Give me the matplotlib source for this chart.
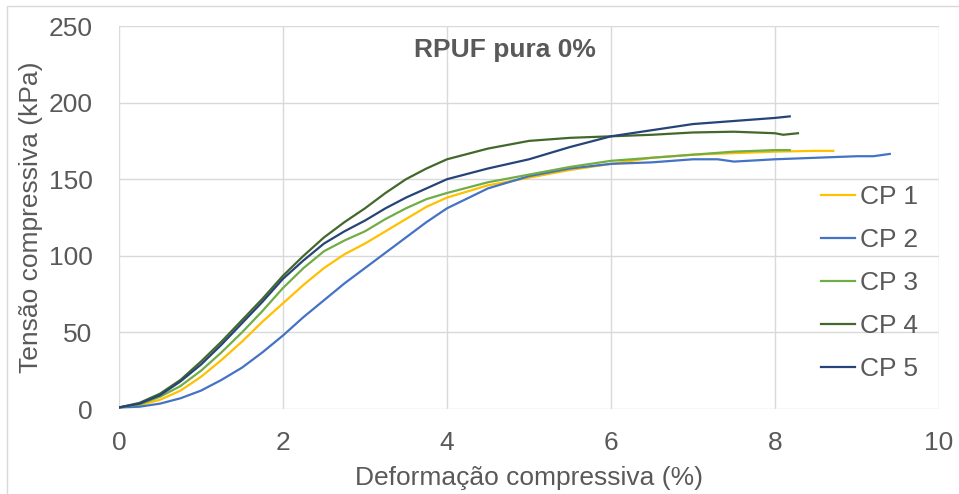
import matplotlib
matplotlib.use("Agg")
import matplotlib.pyplot as plt
from matplotlib.patches import Rectangle

# curvas tensão x deformação, ensaio de compressão (RPUF puro)
x_cp1 = [0, 0.25, 0.5, 0.75, 1, 1.25, 1.5, 1.75, 2, 2.25, 2.5, 2.75, 3, 3.25, 3.5, 3.75, 4,
         4.5, 5, 5.5, 6, 6.5, 7, 7.5, 8, 8.5, 8.71]
y_cp1 = [1, 2.5, 6, 12, 21, 32, 44, 57, 69, 81, 92, 101, 108, 116, 124, 132, 138,
         146, 151, 156, 160, 164, 166, 167, 168, 168.5, 168.5]

x_cp2 = [0, 0.25, 0.5, 0.75, 1, 1.25, 1.5, 1.75, 2, 2.25, 2.5, 2.75, 3, 3.25, 3.5, 3.75, 4,
         4.5, 5, 5.5, 6, 6.5, 7, 7.3, 7.5, 8, 8.5, 9, 9.2, 9.4]
y_cp2 = [1, 1.5, 3.5, 7, 12, 19, 27, 37, 48, 60, 71, 82, 92, 102, 112, 122, 131,
         144, 152, 157, 160, 161, 163, 163, 161.5, 163, 164, 165, 165, 166.5]

x_cp3 = [0, 0.25, 0.5, 0.75, 1, 1.25, 1.5, 1.75, 2, 2.25, 2.5, 2.75, 3, 3.25, 3.5, 3.75, 4,
         4.5, 5, 5.5, 6, 6.5, 7, 7.5, 8, 8.18]
y_cp3 = [1, 3, 8, 15, 25, 37, 50, 64, 79, 92, 103, 110, 116, 124, 131, 137, 141,
         148, 153, 158, 162, 164, 166, 168, 169, 169]

x_cp4 = [0, 0.25, 0.5, 0.75, 1, 1.25, 1.5, 1.75, 2, 2.25, 2.5, 2.75, 3, 3.25, 3.5, 3.75, 4,
         4.5, 5, 5.5, 6, 6.5, 7, 7.5, 8, 8.1, 8.28]
y_cp4 = [1, 4, 10, 19, 31, 44, 58, 72, 87, 100, 112, 122, 131, 141, 150, 157, 163,
         170, 175, 177, 178, 179, 180.5, 181, 180, 179, 180]

x_cp5 = [0, 0.25, 0.5, 0.75, 1, 1.25, 1.5, 1.75, 2, 2.25, 2.5, 2.75, 3, 3.25, 3.5, 3.75, 4,
         4.5, 5, 5.5, 6, 6.5, 7, 7.5, 8, 8.18]
y_cp5 = [1, 3.5, 9, 18, 29, 42, 56, 70, 85, 97, 108, 116, 123, 131, 138, 144, 150,
         157, 163, 171, 178, 182, 186, 188, 190, 191]

series = [("CP 1", x_cp1, y_cp1, "#FFC000"),
          ("CP 2", x_cp2, y_cp2, "#4472C4"),
          ("CP 3", x_cp3, y_cp3, "#70AD47"),
          ("CP 4", x_cp4, y_cp4, "#43682B"),
          ("CP 5", x_cp5, y_cp5, "#264478")]

TXT = "#595959"
GRID = "#D9D9D9"
plt.rcParams["font.family"] = ["Liberation Sans", "DejaVu Sans"]

fig = plt.figure(figsize=(9.59, 4.94), dpi=100)
fig.patches.append(Rectangle((7 / 959, -0.02), 1.0, 1 - 6 / 494 + 0.02,
                             transform=fig.transFigure, fill=False,
                             ec=GRID, lw=1.0))
ax = fig.add_axes([119 / 959, 1 - 409 / 494, 820 / 959, 383 / 494])

for name, xs, ys, col in series:
    ax.plot(xs, ys, color=col, lw=1.6, label=name, solid_joinstyle="round")

ax.set_xlim(0, 10)
ax.set_ylim(0, 250)
ax.set_xticks(range(0, 11, 2))
ax.set_yticks(range(0, 251, 50))
ax.grid(True, color=GRID, lw=1.0)
ax.set_axisbelow(True)
for s in ax.spines.values():
    s.set_visible(False)
ax.tick_params(length=0, labelsize=19, labelcolor=TXT)
ax.tick_params(axis="y", pad=19)
ax.tick_params(axis="x", pad=16)

ax.set_xlabel("Deformação compressiva (%)", fontsize=19, color=TXT, labelpad=8)
ax.set_ylabel("Tensão compressiva (kPa)", fontsize=19, color=TXT, labelpad=4)
ax.text(0.471, 0.937, "RPUF pura 0%", transform=ax.transAxes, ha="center",
        va="center", fontsize=19, fontweight="bold", color=TXT)

leg = ax.legend(loc="center right", bbox_to_anchor=(0.988, 0.329), frameon=False,
                fontsize=19, handlelength=1.3, handletextpad=0.2,
                labelspacing=0.72, borderaxespad=0.0)
for t in leg.get_texts():
    t.set_color(TXT)

fig.savefig("out.png", dpi=100)
